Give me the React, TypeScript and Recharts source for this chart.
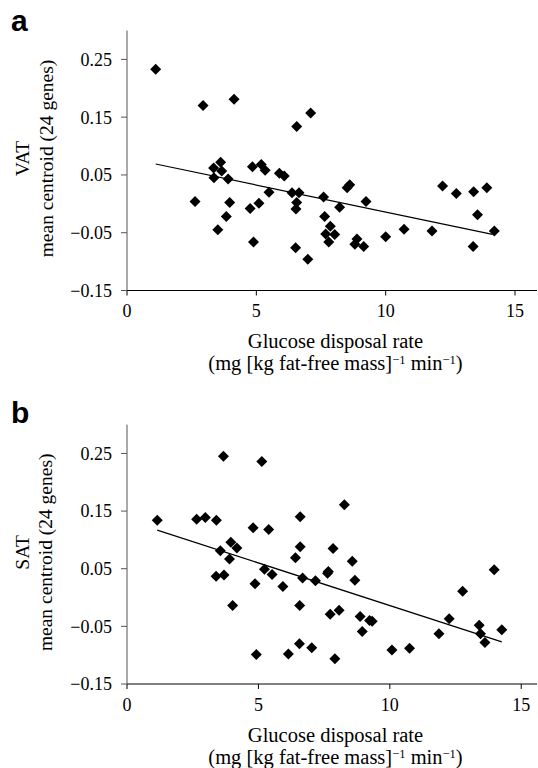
import React from 'react';
import { ScatterChart, Scatter, XAxis, YAxis } from 'recharts';

// panel a: VAT
const vatX = [1.11, 2.94, 4.14, 2.63, 7.1, 6.56, 3.62, 3.35, 3.66, 3.36, 3.91, 3.97, 3.84, 3.51, 4.85, 5.19, 5.34, 5.49, 4.76, 5.1, 4.89, 5.89, 6.08, 6.38, 6.65, 6.56, 6.53, 6.52, 6.99, 7.6, 7.64, 7.86, 7.68, 8.03, 7.8, 8.22, 8.51, 8.61, 9.24, 8.89, 8.81, 9.15, 10.0, 10.71, 11.79, 12.2, 12.73, 13.4, 13.91, 13.55, 13.38, 14.2];
const vatY = [0.233, 0.17, 0.181, 0.004, 0.157, 0.134, 0.072, 0.062, 0.057, 0.045, 0.043, 0.0025, -0.022, -0.045, 0.064, 0.068, 0.058, 0.02, -0.008, 0.001, -0.066, 0.053, 0.048, 0.019, 0.019, 0.0025, -0.009, -0.076, -0.096, 0.012, -0.022, -0.039, -0.052, -0.053, -0.066, -0.006, 0.028, 0.033, 0.004, -0.061, -0.07, -0.074, -0.057, -0.044, -0.047, 0.031, 0.018, 0.021, 0.028, -0.019, -0.074, -0.047];
const vatFitX = [1.11, 14.13];
const vatFitY = [0.069, -0.053];

// panel b: SAT
const satX = [1.15, 3.67, 5.13, 2.65, 2.98, 3.4, 8.27, 6.59, 4.8, 5.39, 3.95, 4.18, 3.55, 3.9, 3.39, 3.69, 4.02, 5.23, 5.52, 4.87, 5.93, 6.59, 6.41, 6.68, 7.17, 6.57, 7.84, 7.66, 7.63, 8.57, 8.67, 8.07, 7.73, 8.87, 9.23, 9.33, 8.95, 6.56, 7.03, 4.92, 6.14, 7.91, 10.08, 10.75, 11.87, 12.26, 12.77, 13.97, 13.4, 13.45, 13.62, 14.26];
const satY = [0.134, 0.245, 0.236, 0.136, 0.139, 0.134, 0.161, 0.14, 0.121, 0.118, 0.096, 0.086, 0.081, 0.067, 0.037, 0.039, -0.014, 0.049, 0.04, 0.024, 0.019, 0.088, 0.069, 0.034, 0.029, -0.014, 0.085, 0.045, 0.042, 0.063, 0.03, -0.022, -0.029, -0.033, -0.04, -0.041, -0.059, -0.08, -0.087, -0.099, -0.098, -0.106, -0.091, -0.088, -0.063, -0.037, 0.011, 0.048, -0.048, -0.063, -0.078, -0.056];
const satFitX = [1.15, 14.26];
const satFitY = [0.117, -0.077];

const xTicks = [0, 5, 10, 15];
const yTicks = [-0.15, -0.05, 0.05, 0.15, 0.25];

const serif = '"Liberation Serif", "Times New Roman", Times, serif';

const toPoints = (xs: number[], ys: number[]) => xs.map((x, i) => ({ x, y: ys[i] }));

const fmtY = (v: number) => (v < 0 ? '\u2212' + Math.abs(v).toFixed(2) : v.toFixed(2));

const Diamond = (props: any) => {
  const { cx, cy } = props;
  const r = 5.5;
  return <polygon points={`${cx},${cy - r} ${cx + r},${cy} ${cx},${cy + r} ${cx - r},${cy}`} fill="#000" />;
};

const NoDot = () => <g />;

const XTick = (props: any) => (
  <text x={props.x} y={props.y} dy="0.71em" textAnchor="middle" fontFamily={serif} fontSize={18} fill="#000">
    {String(props.payload.value)}
  </text>
);

const YTick = (props: any) => (
  <text x={props.x} y={props.y} dy="0.355em" textAnchor="end" fontFamily={serif} fontSize={18} fill="#000">
    {fmtY(props.payload.value)}
  </text>
);

const yLabel = (tissue: string) => (props: any) => {
  const vb = props.viewBox || { x: 0, y: 0, width: 0, height: 0 };
  const cy = vb.y + vb.height / 2 - 2;
  const x1 = 29;
  const x2 = 52.5;
  return (
    <g fontFamily={serif} fontSize={19.5} fill="#000">
      <text x={x1} y={cy} textAnchor="middle" transform={`rotate(-90, ${x1}, ${cy})`}>{tissue}</text>
      <text x={x2} y={cy} textAnchor="middle" transform={`rotate(-90, ${x2}, ${cy})`}>mean centroid (24 genes)</text>
    </g>
  );
};

const xLabel = (props: any) => {
  const vb = props.viewBox || { x: 0, y: 0, width: 0, height: 0 };
  const cx = vb.x + vb.width / 2 + 3.5;
  return (
    <g fontFamily={serif} fontSize={20.5} fill="#000">
      <text x={cx} y={vb.y + 57.5} textAnchor="middle">Glucose disposal rate</text>
      <text x={cx} y={vb.y + 79.5} textAnchor="middle">
        (mg [kg fat-free mass]
        <tspan dy={-6} fontSize={12.5}>{'\u22121'}</tspan>
        <tspan dy={6}> min</tspan>
        <tspan dy={-6} fontSize={12.5}>{'\u22121'}</tspan>
        <tspan dy={6}>)</tspan>
      </text>
    </g>
  );
};

interface PanelProps {
  letter: string;
  tissue: string;
  xs: number[];
  ys: number[];
  fitX: number[];
  fitY: number[];
  xMax: number;
  top: number;
  marginTop: number;
  marginBottom: number;
}

const Panel: React.FC<PanelProps> = ({ letter, tissue, xs, ys, fitX, fitY, xMax, top, marginTop, marginBottom }) => (
  <div style={{ position: 'absolute', left: 0, top, width: 538, height: 384, fontFamily: serif }}>
    <div
      style={{
        position: 'absolute',
        left: 11,
        top: letter === 'a' ? 5.6 : 13.6,
        fontFamily: '"Liberation Sans", Arial, sans-serif',
        fontWeight: 'bold',
        fontSize: 30,
        lineHeight: '30px',
      }}
    >
      {letter}
    </div>
    <ScatterChart width={538} height={384} margin={{ top: marginTop, right: 1, bottom: marginBottom, left: 0 }}>
      <XAxis
        type="number"
        dataKey="x"
        domain={[0, xMax]}
        ticks={xTicks}
        allowDataOverflow
        height={60}
        stroke="#000"
        tickSize={5}
        tickMargin={9}
        tick={XTick}
        label={{ content: xLabel }}
      />
      <YAxis
        type="number"
        dataKey="y"
        domain={[-0.15, 0.3]}
        ticks={yTicks}
        allowDataOverflow
        width={127}
        stroke="#555"
        tickSize={6}
        tickMargin={9}
        tick={YTick}
        label={{ content: yLabel(tissue) }}
      />
      <Scatter
        data={toPoints(fitX, fitY)}
        line={{ stroke: '#000', strokeWidth: 1.2 }}
        lineType="joint"
        shape={NoDot}
        fill="#000"
        isAnimationActive={false}
      />
      <Scatter data={toPoints(xs, ys)} shape={Diamond} fill="#000" isAnimationActive={false} />
    </ScatterChart>
  </div>
);

export default function App() {
  return (
    <div style={{ position: 'absolute', left: 0, top: 0, width: 538, height: 768, background: '#fff' }}>
      <Panel
        letter="a"
        tissue="VAT"
        xs={vatX}
        ys={vatY}
        fitX={vatFitX}
        fitY={vatFitY}
        xMax={15.85}
        top={0}
        marginTop={30.5}
        marginBottom={33.5}
      />
      <Panel
        letter="b"
        tissue="SAT"
        xs={satX}
        ys={satY}
        fitX={satFitX}
        fitY={satFitY}
        xMax={15.6}
        top={384}
        marginTop={40.6}
        marginBottom={24}
      />
    </div>
  );
}
